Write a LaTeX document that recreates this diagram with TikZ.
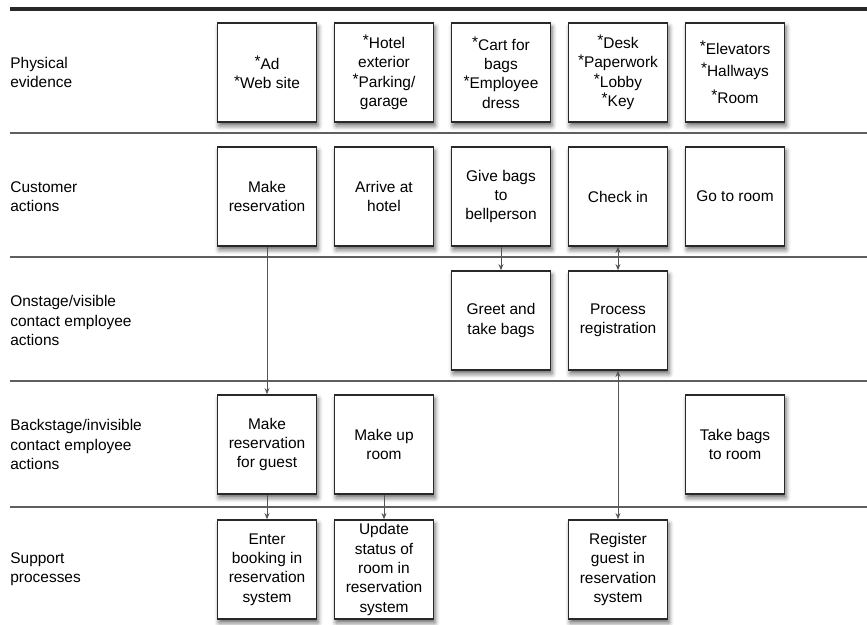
\documentclass[tikz,border=0pt]{standalone}
\usepackage{fontspec}
\setmainfont{Liberation Sans}
\usepackage{xcolor}
\usepackage{tikz}
\usetikzlibrary{arrows.meta,shadows.blur}
\definecolor{ink}{RGB}{40,40,40}
\definecolor{rule}{RGB}{95,95,95}
\definecolor{wire}{RGB}{85,85,85}
\newcommand{\evmark}{\raisebox{0.18em}{*}}

\begin{document}
\begin{tikzpicture}[font=\fontsize{8.8}{11}\selectfont,
  blk/.style={draw=ink, line width=0.85pt, fill=white, minimum width=1.98cm, minimum height=1.98cm,
    inner sep=1pt, align=center, blur shadow={shadow xshift=0.9pt, shadow yshift=-2.2pt, shadow blur radius=2.6pt, shadow opacity=60}},
  lane/.style={anchor=west, align=left, inner sep=0pt},
  sep/.style={draw=rule, line width=1.1pt},
  conn/.style={draw=wire, line width=0.5pt, arrows={-Stealth[length=3.5pt, width=2.8pt]}}]
  \useasboundingbox (0,0) rectangle (17.34,12.5);

  % swim lane rules
  \draw[line width=1.8pt, draw=ink] (0.2,12.32) -- (17.34,12.32);
  \draw[sep] (0.2,9.84) -- (17.34,9.84);
  \draw[sep] (0.2,7.36) -- (17.34,7.36);
  \draw[sep] (0.2,4.88) -- (17.34,4.88);
  \draw[sep] (0.2,2.36) -- (17.34,2.36);

  % lane names
  \node[lane] (lpe) at (0.2,11.05) {Physical\\evidence};
  \node[lane] (lca) at (0.2,8.57) {Customer\\actions};
  \node[lane] (lon) at (0.2,6.09) {Onstage/visible\\contact employee\\actions};
  \node[lane] (lback) at (0.2,3.61) {Backstage/invisible\\contact employee\\actions};
  \node[lane] (lsup) at (0.2,1.11) {Support\\processes};

  % physical evidence
  \node[blk] (pe1) at (5.34,11.05) {\evmark Ad\\\evmark Web site};
  \node[blk] (pe2) at (7.68,11.05) {\evmark Hotel\\exterior\\\evmark Parking/\\garage};
  \node[blk] (pe3) at (10.02,11.05) {\evmark Cart for\\bags\\\evmark Employee\\dress};
  \node[blk] (pe4) at (12.36,11.05) {\evmark Desk\\\evmark Paperwork\\\evmark Lobby\\\evmark Key};
  \node[blk] (pe5) at (14.70,11.05) {\evmark Elevators\\[1.5pt]\evmark Hallways\\[4.5pt]\evmark Room};

  % customer actions
  \node[blk] (mkres) at (5.34,8.57) {Make\\reservation};
  \node[blk] (arrive) at (7.68,8.57) {Arrive at\\hotel};
  \node[blk] (givebags) at (10.02,8.57) {Give bags\\to\\bellperson};
  \node[blk] (checkin) at (12.36,8.57) {Check in};
  \node[blk] (goroom) at (14.70,8.57) {Go to room};

  % onstage
  \node[blk] (greet) at (10.02,6.09) {Greet and\\take bags};
  \node[blk] (procreg) at (12.36,6.09) {Process\\registration};

  % backstage
  \node[blk] (mkresg) at (5.34,3.61) {Make\\reservation\\for guest};
  \node[blk] (makeup) at (7.68,3.61) {Make up\\room};
  \node[blk] (takebags) at (14.70,3.61) {Take bags\\to room};

  % support
  \node[blk] (booking) at (5.34,1.11) {Enter\\booking in\\reservation\\system};
  \node[blk] (update) at (7.68,1.11) {Update\\status of\\room in\\reservation\\system};
  \node[blk] (register) at (12.36,1.11) {Register\\guest in\\reservation\\system};

  \draw[conn] (mkres) -- (mkresg);
  \draw[conn] (givebags) -- (greet);
  \draw[conn, arrows={Stealth[length=3.5pt, width=2.8pt]-Stealth[length=3.5pt, width=2.8pt]}] (checkin) -- (procreg);
  \draw[conn, arrows={Stealth[length=3.5pt, width=2.8pt]-Stealth[length=3.5pt, width=2.8pt]}] (procreg) -- (register);
  \draw[conn] (mkresg) -- (booking);
  \draw[conn] (makeup) -- (update);
\end{tikzpicture}
\end{document}
